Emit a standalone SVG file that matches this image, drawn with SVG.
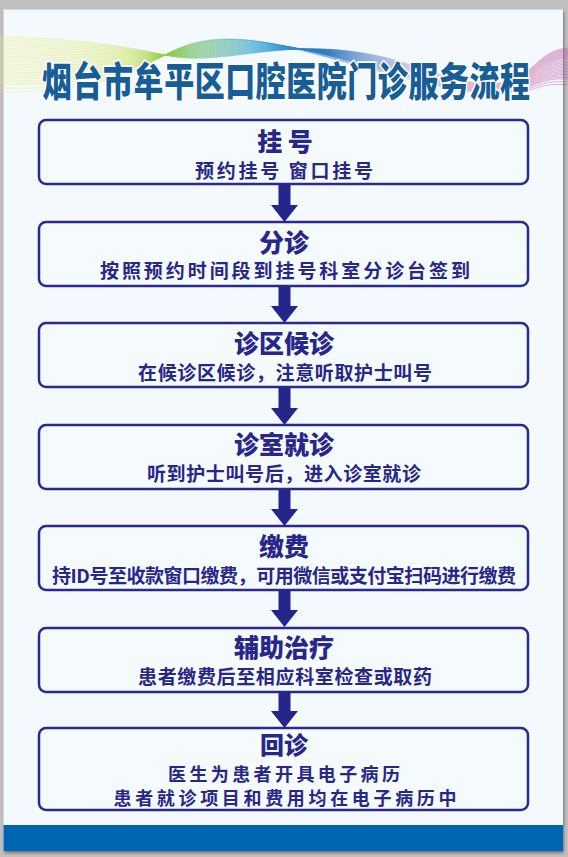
<svg xmlns="http://www.w3.org/2000/svg" width="568" height="857" viewBox="0 0 568 857">
<defs>
<style>
.box{fill:#f5fafd;stroke:#2a2a8c;stroke-width:2.5}
.arrow{fill:#25258a}
.h{font-family:"Noto Sans CJK SC",sans-serif;font-weight:900;font-size:25px;fill:#27278a;text-anchor:middle;dominant-baseline:central}
.s{font-family:"Noto Sans CJK SC",sans-serif;font-weight:bold;font-size:19px;fill:#27278a;text-anchor:middle;dominant-baseline:central}
.s2{font-size:18px}
.rib{fill:none;stroke:url(#rg);stroke-width:0.7;opacity:0.7}
</style>
<linearGradient id="rg" x1="0" y1="0" x2="568" y2="0" gradientUnits="userSpaceOnUse">
<stop offset="0" stop-color="#eef07a"/>
<stop offset="0.22" stop-color="#cbe14a"/>
<stop offset="0.32" stop-color="#7cc24a"/>
<stop offset="0.45" stop-color="#3aa6d8"/>
<stop offset="0.58" stop-color="#1f6fb8"/>
<stop offset="0.72" stop-color="#b6b0dc"/>
<stop offset="0.86" stop-color="#f0a6b6"/>
<stop offset="1" stop-color="#b45aa8"/>
</linearGradient>
<filter id="sh" x="-5%" y="-5%" width="110%" height="110%">
<feGaussianBlur in="SourceAlpha" stdDeviation="1.5"/>
<feOffset dx="1" dy="1.5"/>
<feComponentTransfer><feFuncA type="linear" slope="0.4"/></feComponentTransfer>
<feMerge><feMergeNode/><feMergeNode in="SourceGraphic"/></feMerge>
</filter>
</defs>
<rect x="0" y="0" width="568" height="857" fill="#bfbfbf"/>
<g id="panel" filter="url(#sh)">
<rect x="3.5" y="9.5" width="559.5" height="841.5" fill="#f4f9fd"/>
</g>
<rect x="3.5" y="825" width="559.5" height="26" fill="#0066b2"/>
<g id="ribbons">
<path class="rib" d="M0,36 Q100,40 165,55 C230,70 300,25 420,68 S520,52 568,48"/>
<path class="rib" d="M0,38 Q100,42 165,55 C230,68 300,26 420,68.5 S520,53 568,49"/>
<path class="rib" d="M0,40 Q100,44 165,55 C230,66 300,27 420,69 S520,54 568,50"/>
<path class="rib" d="M0,42 Q100,46 165,55 C230,64 300,28 420,69.5 S520,55 568,51"/>
<path class="rib" d="M0,44 Q100,48 165,55 C230,62 300,29 420,70 S520,56 568,52"/>
<path class="rib" d="M0,46 Q100,50 165,55 C230,60 300,30 420,70.5 S520,57 568,53"/>
<path class="rib" d="M0,48 Q100,52 165,55 C230,58 300,31 420,71 S520,58 568,54"/>
<path class="rib" d="M0,50 Q100,54 165,55 C230,56 300,32 420,71.5 S520,59 568,55"/>
<path class="rib" d="M0,52 Q100,56 165,55 C230,54 300,33 420,72 S520,60 568,56"/>
<path class="rib" d="M0,54 Q100,58 165,55 C230,52 300,34 420,72.5 S520,61 568,57"/>
<path class="rib" d="M0,56 Q100,60 165,55 C230,50 300,35 420,73 S520,62 568,58"/>
<path class="rib" d="M0,58 Q100,62 165,55 C230,48 300,36 420,73.5 S520,63 568,59.5"/>
<path class="rib" d="M0,60 Q100,64 165,55 C230,46 300,37 420,74 S520,64 568,61"/>
<path class="rib" d="M0,62 Q100,66 165,55 C230,44 300,38 420,74.5 S520,65 568,62.5"/>
<path class="rib" d="M0,64 Q100,68 165,55 C230,42 300,39 420,75 S520,66 568,64"/>
<path class="rib" d="M0,66 Q100,70 165,55 C230,40 300,40 420,75.5 S520,67 568,65.5"/>
<path class="rib" d="M0,68 Q100,72 165,55 C230,38 300,41 420,76 S520,68 568,67"/>
<path class="rib" d="M0,70 Q100,74 165,55 C230,36 300,42 420,76.5 S520,69 568,68.5"/>
<path class="rib" d="M0,72 Q100,76 165,55 C230,34 300,43 420,77 S520,70 568,70"/>
<path class="rib" d="M0,74 Q100,78 165,55 C230,32 300,44 420,77.5 S520,71 568,71.5"/>
<path class="rib" d="M0,76 Q100,80 165,55 C230,30 300,45 420,78 S520,72 568,73"/>
<path class="rib" d="M0,78 Q100,82 165,55 C230,28 300,46 420,78.5 S520,73 568,74.5"/>
<path class="rib" d="M0,80 Q100,84 165,55 C230,26 300,47 420,79 S520,74 568,76"/>
<path class="rib" d="M0,82 Q100,86 165,55 C230,24 300,48 420,79.5 S520,75 568,77.5"/>
<path class="rib" d="M0,84 Q100,88 165,55 C230,22 300,49 420,80 S520,76 568,79"/>
<path class="rib" d="M0,88 Q100,92 165,55 C230,20 300,51 420,81 S520,78 568,82"/>
<path class="rib" d="M0,92 Q100,94 165,55 C230,18 300,53 420,82 S520,80 568,85"/>
</g>
<g id="title">
<g transform="translate(286,78) scale(1,1.33)">
<text x="0" y="0" textLength="488" lengthAdjust="spacing" style="font-family:'Noto Sans CJK SC',sans-serif;font-weight:900;font-size:30px;fill:#175d96;stroke:#ffffff;stroke-width:2.5;paint-order:stroke;text-anchor:middle;dominant-baseline:central">烟台市牟平区口腔医院门诊服务流程</text>
</g>
</g>
<g id="connectors">
<polygon class="arrow" points="278.5,184 290.5,184 290.5,205 298,205 284.5,222 271,205 278.5,205"/>
<polygon class="arrow" points="278.5,286 290.5,286 290.5,306 298,306 284.5,323 271,306 278.5,306"/>
<polygon class="arrow" points="278.5,387 290.5,387 290.5,408 298,408 284.5,425 271,408 278.5,408"/>
<polygon class="arrow" points="278.5,489 290.5,489 290.5,509 298,509 284.5,526 271,509 278.5,509"/>
<polygon class="arrow" points="278.5,590 290.5,590 290.5,610 298,610 284.5,627 271,610 278.5,610"/>
<polygon class="arrow" points="278.5,692 290.5,692 290.5,711 298,711 284.5,728 271,711 278.5,711"/>
</g>
<g id="node1">
<rect class="box" x="39" y="120" width="489" height="64" rx="7"/>
<text class="h" x="285" y="140">挂 号</text>
<text class="s" x="284" y="169" textLength="178" lengthAdjust="spacing">预约挂号 窗口挂号</text>
</g>
<g id="node2">
<rect class="box" x="39" y="222" width="489" height="64" rx="7"/>
<text class="h" x="284" y="241">分诊</text>
<text class="s" x="285" y="269" textLength="370" lengthAdjust="spacing">按照预约时间段到挂号科室分诊台签到</text>
</g>
<g id="node3">
<rect class="box" x="39" y="323" width="489" height="64" rx="7"/>
<text class="h" x="284" y="342">诊区候诊</text>
<text class="s" x="285" y="371" textLength="294" lengthAdjust="spacing">在候诊区候诊，注意听取护士叫号</text>
</g>
<g id="node4">
<rect class="box" x="39" y="425" width="489" height="64" rx="7"/>
<text class="h" x="284" y="443">诊室就诊</text>
<text class="s" x="284" y="472" textLength="274" lengthAdjust="spacing">听到护士叫号后，进入诊室就诊</text>
</g>
<g id="node5">
<rect class="box" x="39" y="526" width="489" height="64" rx="7"/>
<text class="h" x="284" y="545">缴费</text>
<text class="s" x="284" y="574" textLength="464" lengthAdjust="spacing">持ID号至收款窗口缴费，可用微信或支付宝扫码进行缴费</text>
</g>
<g id="node6">
<rect class="box" x="39" y="628" width="489" height="64" rx="7"/>
<text class="h" x="284" y="646">辅助治疗</text>
<text class="s" x="285" y="675" textLength="294" lengthAdjust="spacing">患者缴费后至相应科室检查或取药</text>
</g>
<g id="node7">
<rect class="box" x="39" y="728" width="489" height="82" rx="7"/>
<text class="h" x="284" y="743" style="font-size:24px">回诊</text>
<text class="s s2" x="284" y="773" textLength="232" lengthAdjust="spacing">医生为患者开具电子病历</text>
<text class="s s2" x="285" y="797" textLength="343" lengthAdjust="spacing">患者就诊项目和费用均在电子病历中</text>
</g>
</svg>
